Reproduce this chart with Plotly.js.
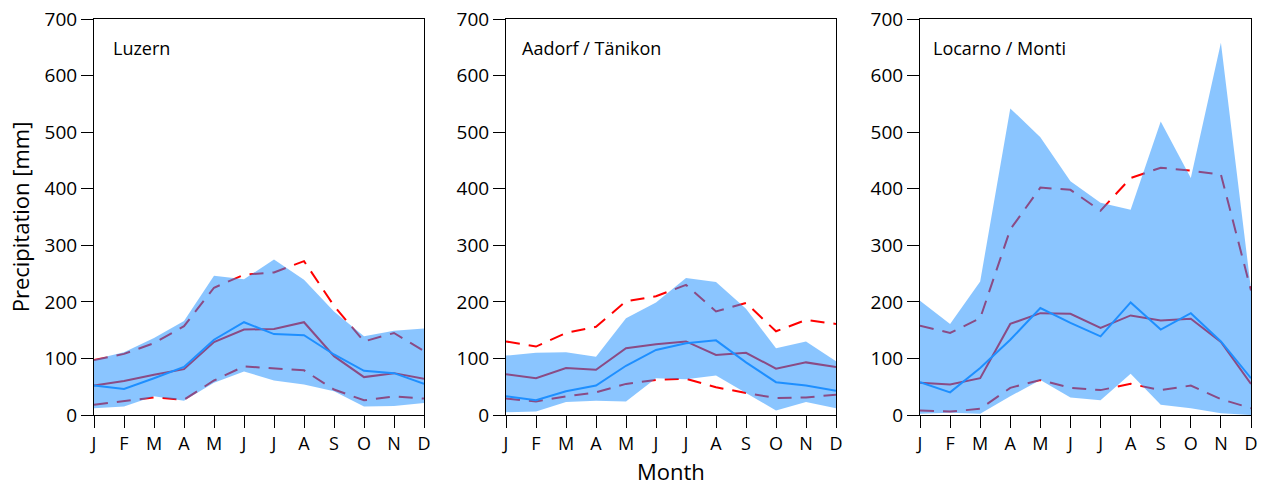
<!DOCTYPE html>
<html>
<head>
<meta charset="utf-8">
<script src="https://cdn.plot.ly/plotly-3.0.1.min.js"></script>
<style>html,body{margin:0;padding:0;background:#fff;}#chart{width:1269px;height:488px;}</style>
</head>
<body>
<div id="chart"></div>
<script>
// ---- data ----
const months = ['J','F','M','A','M','J','J','A','S','O','N','D'];
const stations = ['Luzern', 'Aadorf / Tänikon', 'Locarno / Monti'];

// Luzern
const luzernBandMax = [98,111,136,166,246,240,275,239,183,139,149,153];
const luzernBandMin = [12,15,33,25,57,77,61,54,42,15,16,21];
const luzernBlueMean = [52,46,65,85,133,164,143,141,107,78,74,55];
const luzernRedMean = [52,60,71,81,129,151,152,164,104,67,74,64];
const luzernRedHigh = [97,108,127,157,225,248,252,272,193,130,145,113];
const luzernRedLow = [18,24,31,27,61,86,83,79,45,26,33,29];

// Aadorf / Tänikon
const aadorfBandMax = [105,110,111,103,171,199,242,235,188,118,130,95];
const aadorfBandMin = [5,6,23,25,24,65,63,70,39,8,23,12];
const aadorfBlueMean = [33,26,42,52,87,115,127,132,93,58,52,43];
const aadorfRedMean = [72,65,83,80,118,125,130,106,110,82,93,85];
const aadorfRedHigh = [130,121,145,156,201,210,230,183,198,148,168,161];
const aadorfRedLow = [29,24,33,40,55,62,64,49,39,30,31,36];

// Locarno / Monti
const locarnoBandMax = [202,161,236,542,491,413,375,363,519,419,658,222];
const locarnoBandMin = [2,4,2,33,62,31,26,73,18,12,3,0];
const locarnoBlueMean = [58,40,83,133,189,163,139,199,151,180,130,65];
const locarnoRedMean = [57,54,65,161,180,179,154,176,167,170,129,55];
const locarnoRedHigh = [158,145,171,328,402,398,361,419,437,432,425,220];
const locarnoRedLow = [8,6,11,48,62,48,44,55,44,52,28,12];

const yTicks = [0,100,200,300,400,500,600,700];

// ---- build ----
const idx = months.map((m, i) => i);
const FONT = 'Open Sans, DejaVu Sans, sans-serif';
const RED = '#ff0000';
const BLUE = '#1e8fff';
const FILL = 'rgba(30,144,255,0.52)';

const panels = [
  {name: stations[0], max: luzernBandMax, min: luzernBandMin, blue: luzernBlueMean, red: luzernRedMean, hi: luzernRedHigh, lo: luzernRedLow, lx: 0.05},
  {name: stations[1], max: aadorfBandMax, min: aadorfBandMin, blue: aadorfBlueMean, red: aadorfRedMean, hi: aadorfRedHigh, lo: aadorfRedLow, lx: 0.041},
  {name: stations[2], max: locarnoBandMax, min: locarnoBandMin, blue: locarnoBlueMean, red: locarnoRedMean, hi: locarnoRedHigh, lo: locarnoRedLow, lx: 0.032}
];

const traces = [];
panels.forEach((p, k) => {
  const xa = k === 0 ? 'x' : 'x' + (k + 1);
  const ya = k === 0 ? 'y' : 'y' + (k + 1);
  const common = {xaxis: xa, yaxis: ya, mode: 'lines', hoverinfo: 'skip', showlegend: false};
  traces.push(Object.assign({x: idx, y: p.hi, line: {color: RED, width: 2, dash: '14px,9px'}}, common));
  traces.push(Object.assign({x: idx, y: p.lo, line: {color: RED, width: 2, dash: '14px,9px'}}, common));
  traces.push(Object.assign({x: idx, y: p.red, line: {color: RED, width: 2}}, common));
  traces.push(Object.assign({
    x: idx.concat(idx.slice().reverse()),
    y: p.max.concat(p.min.slice().reverse()),
    fill: 'toself', fillcolor: FILL, line: {width: 0, color: 'rgba(0,0,0,0)'}
  }, common));
  traces.push(Object.assign({x: idx, y: p.blue, line: {color: BLUE, width: 2}}, common));
});

const W = 1269;
const domains = [[94/W, 424/W], [506/W, 836/W], [920/W, 1251/W]];

const layout = {
  width: 1269, height: 488,
  margin: {l: 0, r: 0, t: 19, b: 73},
  paper_bgcolor: '#fff', plot_bgcolor: '#fff',
  font: {family: FONT, color: '#000', size: 18},
  showlegend: false,
  annotations: []
};

panels.forEach((p, k) => {
  const sfx = k === 0 ? '' : String(k + 1);
  layout['xaxis' + sfx] = {
    domain: domains[k], anchor: 'y' + sfx, range: [0, 11],
    tickmode: 'array', tickvals: idx, ticktext: months,
    showline: true, mirror: true, linecolor: '#000', linewidth: 1,
    ticks: 'outside', ticklen: 12, tickcolor: '#000', tickwidth: 1,
    showgrid: false, zeroline: false, fixedrange: true,
    tickfont: {family: FONT, size: 18, color: '#000'}
  };
  layout['yaxis' + sfx] = {
    domain: [0, 1], anchor: 'x' + sfx, range: [0, 700],
    tickmode: 'array', tickvals: yTicks, ticktext: yTicks.map(String),
    showline: true, mirror: true, linecolor: '#000', linewidth: 1,
    ticks: 'outside', ticklen: 12, tickcolor: '#000', tickwidth: 1,
    showgrid: false, zeroline: false, fixedrange: true,
    tickfont: {family: FONT, size: 19, color: '#000'}
  };
  layout.annotations.push({
    text: p.name, xref: 'x' + sfx + ' domain', yref: 'y' + sfx + ' domain',
    x: p.lx, y: 0.928, xanchor: 'left', yanchor: 'middle', showarrow: false,
    font: {family: FONT, size: 18, color: '#000'}
  });
});

layout.yaxis.title = {text: 'Precipitation [mm]', font: {family: FONT, size: 22, color: '#000'}, standoff: 8};
layout.annotations.push({
  text: 'Month', xref: 'x2 domain', yref: 'paper', x: 0.5, y: -0.142,
  xanchor: 'center', yanchor: 'middle', showarrow: false,
  font: {family: FONT, size: 22, color: '#000'}
});

Plotly.newPlot('chart', traces, layout, {staticPlot: true, displayModeBar: false});
</script>
</body>
</html>
